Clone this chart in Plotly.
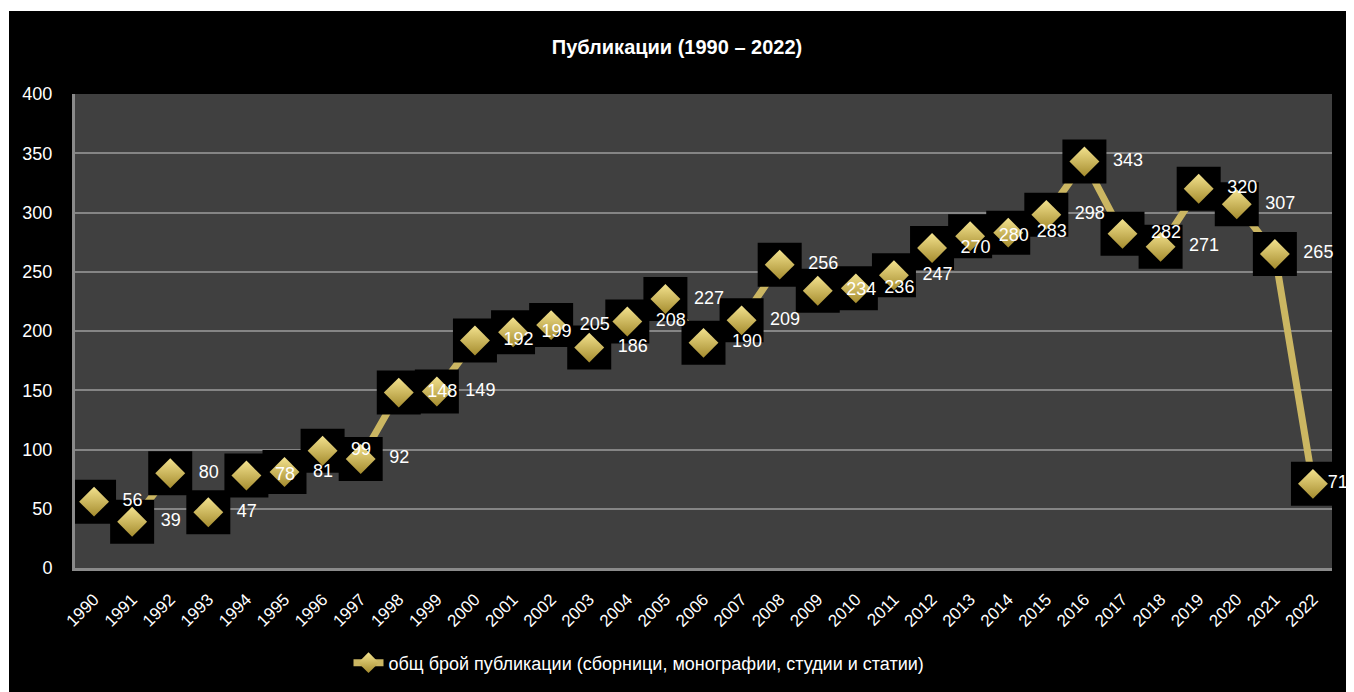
import plotly.graph_objects as go

years = [str(y) for y in range(1990, 2023)]
values = [56, 39, 80, 47, 78, 81, 99, 92, 148, 149, 192, 199, 205, 186, 208, 227,
          190, 209, 256, 234, 236, 247, 270, 280, 283, 298, 343, 282, 271, 320, 307, 265, 71]
labels = [str(v) for v in values]
series_name = "общ брой публикации (сборници, монографии, студии и статии)"
title_text = "Публикации (1990 – 2022)"
y_ticks = [0, 50, 100, 150, 200, 250, 300, 350, 400]

FONT = "Liberation Sans Narrow, Arial Narrow, Liberation Sans, Arial, sans-serif"
GOLD = "#CBB662"

# label offset driver: last label sits closer to its marker (as in the reference)
label_sizes = [44] * (len(values) - 1) + [22]

fig = go.Figure()
# connecting line
fig.add_trace(go.Scatter(x=years, y=values, mode="lines", cliponaxis=False,
                         line=dict(color=GOLD, width=7), showlegend=False, hoverinfo="skip"))
# black square backgrounds
fig.add_trace(go.Scatter(x=years, y=values, mode="markers", cliponaxis=False,
                         marker=dict(symbol="square", size=44, color="black", line=dict(width=0)),
                         showlegend=False, hoverinfo="skip"))
# diamonds
fig.add_trace(go.Scatter(x=years, y=values, mode="markers", cliponaxis=False,
                         marker=dict(symbol="diamond", size=23, color="#F3E28E",
                                     gradient=dict(type="vertical", color="#A58C2E"),
                                     line=dict(width=0)),
                         showlegend=False))
# data labels
fig.add_trace(go.Scatter(x=years, y=values, mode="markers+text", text=labels, cliponaxis=False,
                         textposition="middle right",
                         textfont=dict(family=FONT, size=18, color="white"),
                         marker=dict(symbol="square", size=label_sizes, color="rgba(0,0,0,0)",
                                     line=dict(width=0, color="rgba(0,0,0,0)")),
                         showlegend=False, hoverinfo="skip"))
# legend entry
fig.add_trace(go.Scatter(x=[None], y=[None], mode="lines+markers", name=series_name,
                         line=dict(color=GOLD, width=7),
                         marker=dict(symbol="diamond", size=16, color="#F3E28E",
                                     gradient=dict(type="vertical", color="#A58C2E"),
                                     line=dict(width=0))))

W, H = 1346, 684
L, T = 67, 86
pw, ph = 1257, 474
R = W - L - pw
B = H - T - ph
fig.update_layout(
    width=W, height=H,
    margin=dict(l=L, r=R, t=T, b=B),
    paper_bgcolor="white",
    plot_bgcolor="rgba(0,0,0,0)",
    font=dict(family=FONT, color="white", size=18),
    title=dict(text="<b>" + title_text + "</b>", x=669 / W, xref="container", xanchor="center",
               y=1 - 39 / H, yref="container", yanchor="middle",
               font=dict(family=FONT, size=20, color="white")),
    showlegend=True,
    legend=dict(orientation="h", xref="container", yref="container",
                x=631 / W, xanchor="center", y=1 - 655 / H, yanchor="middle",
                font=dict(family=FONT, size=18, color="white"),
                bgcolor="rgba(0,0,0,0)"),
    shapes=[
        dict(type="rect", xref="paper", yref="paper",
             x0=(1 - L) / pw, x1=(W + 10 - L) / pw, y0=-(B + 10) / ph, y1=(T + ph - 3) / ph,
             fillcolor="black", line=dict(width=0), layer="below"),
        dict(type="rect", xref="paper", yref="paper", x0=0, x1=1, y0=0, y1=1,
             fillcolor="#404040", line=dict(width=0), layer="below"),
    ],
    xaxis=dict(type="category", range=[-0.5, len(years) - 0.5], tickangle=-45,
               showgrid=False, showline=True, linecolor="#8A8A8A", linewidth=3,
               ticks="", tickfont=dict(family=FONT, size=17, color="white"),
               ticklabelstandoff=12, fixedrange=True),
    yaxis=dict(range=[0, 400], tickvals=y_ticks, showgrid=True, gridcolor="#858585",
               gridwidth=2, zeroline=False, showline=True, linecolor="#8A8A8A", linewidth=3,
               ticks="", tickfont=dict(family=FONT, size=18, color="white"),
               ticklabelstandoff=16, fixedrange=True),
)

fig.write_html("out.html")
